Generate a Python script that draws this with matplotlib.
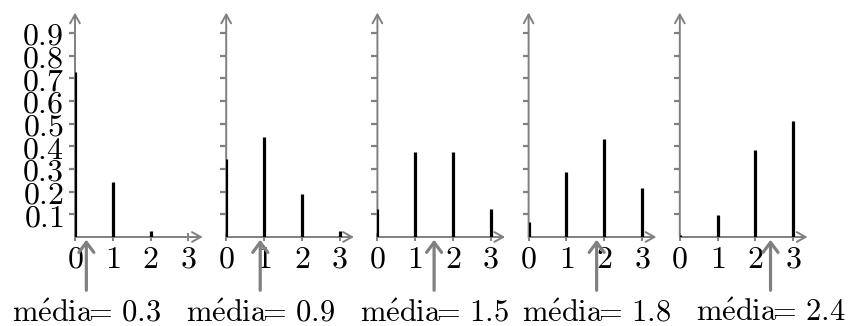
import matplotlib
matplotlib.use("Agg")
import matplotlib.pyplot as plt

plt.rcParams['mathtext.fontset'] = 'cm'

# values of each panel (k = 0, 1, 2, 3)
k_values = [0, 1, 2, 3]
prob_a = [0.729, 0.243, 0.027, 0.001]
prob_b = [0.343, 0.441, 0.189, 0.027]
prob_c = [0.125, 0.375, 0.375, 0.125]
prob_d = [0.064, 0.288, 0.432, 0.216]
prob_e = [0.008, 0.096, 0.384, 0.512]
means = [0.3, 0.9, 1.5, 1.8, 2.4]
x_labels = ['0', '1', '2', '3']
y_ticks = [0.1, 0.2, 0.3, 0.4, 0.5, 0.6, 0.7, 0.8, 0.9]

panels = [prob_a, prob_b, prob_c, prob_d, prob_e]
gray = '#808080'

W, H = 851, 326
fig = plt.figure(figsize=(W / 100, H / 100), dpi=100)

unit_x = 37.8     # px per x unit
unit_y = 226.7    # px per y unit
x_max = 3.38
y_max = 0.99

for i, (probs, mu) in enumerate(zip(panels, means)):
    left = 75 + 151.2 * i
    ax = fig.add_axes([left / W, 89 / H, x_max * unit_x / W, y_max * unit_y / H])
    ax.set_xlim(0, x_max)
    ax.set_ylim(0, y_max)
    for s in ax.spines.values():
        s.set_visible(False)
    ax.patch.set_visible(False)

    # axes with arrows
    ax.annotate('', xy=(x_max, 0), xytext=(0, 0), annotation_clip=False,
                arrowprops=dict(arrowstyle='->, head_width=0.25, head_length=0.45',
                                color=gray, lw=1.4, mutation_scale=14,
                                shrinkA=0, shrinkB=0))
    ax.annotate('', xy=(0, y_max), xytext=(0, 0), annotation_clip=False,
                arrowprops=dict(arrowstyle='->, head_width=0.25, head_length=0.45',
                                color=gray, lw=1.4, mutation_scale=14,
                                shrinkA=0, shrinkB=0))

    # ticks
    ax.set_xticks(k_values)
    ax.set_xticklabels(['$' + t + '$' for t in x_labels], fontsize=23)
    ax.tick_params(axis='x', direction='inout', length=6, width=1.4, color=gray, pad=2)
    ax.set_yticks(y_ticks)
    if i == 0:
        ax.set_yticklabels(['$%.1f$' % v for v in y_ticks], fontsize=23)
    else:
        ax.set_yticklabels([])
    ax.tick_params(axis='y', direction='out', length=4, width=1.6, color=gray, pad=4)

    # probability bars
    ax.vlines(k_values, 0, probs, colors='black', lw=2.3, zorder=5)

    # mean arrow
    ax.annotate('', xy=(mu, -0.012), xytext=(mu, -0.235), annotation_clip=False,
                arrowprops=dict(arrowstyle='->, head_width=0.3, head_length=0.4',
                                color=gray, lw=2.3, mutation_scale=18,
                                shrinkA=0, shrinkB=0))
    ax.text(mu, -0.27, r'$\mathrm{m\acute{e}dia}\!\!=\!\ %.1f$' % mu, fontsize=22,
            ha='center', va='top', clip_on=False)

fig.savefig('out.png', dpi=100)
